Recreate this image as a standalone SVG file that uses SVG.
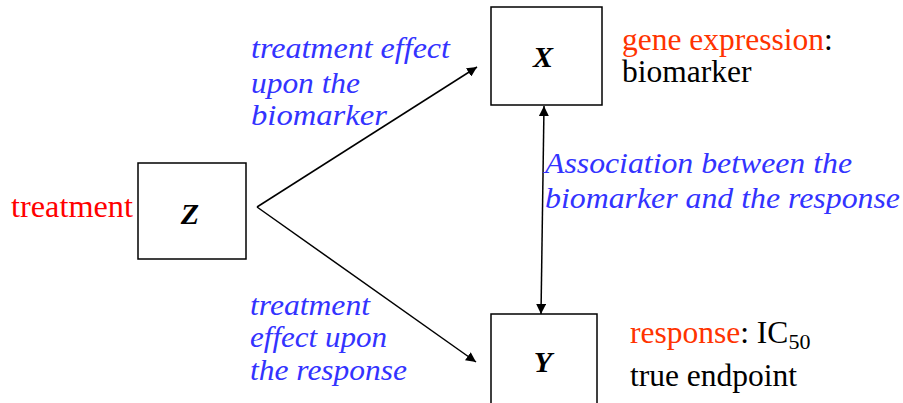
<svg xmlns="http://www.w3.org/2000/svg" width="903" height="403" viewBox="0 0 903 403">
<defs>
<marker id="ah" viewBox="0 0 10 10" refX="10" refY="5" markerWidth="10" markerHeight="10" markerUnits="userSpaceOnUse" orient="auto-start-reverse">
<path d="M0,0 L10,5 L0,10 Z" fill="#000"/>
</marker>
<style>
text{font-family:'Liberation Serif','Times New Roman',Tinos,'DejaVu Serif',serif}
.box{fill:#fff;stroke:#000;stroke-width:1.5}
.var{font-style:italic;font-weight:bold;font-size:30px;fill:#000}
.lbl{font-size:31.5px;fill:#000}
.red{fill:#FF0000}
.ora{fill:#FF3300}
.blue{font-style:italic;font-size:29px;fill:#3333FF}
.edge{stroke:#000;stroke-width:1.5;fill:none}
</style>
</defs>
<rect width="903" height="403" fill="#fff"/>
<g id="connectors">
<line class="edge" x1="257" y1="207" x2="477" y2="67" marker-end="url(#ah)"/>
<line class="edge" x1="257" y1="207" x2="476" y2="362" marker-end="url(#ah)"/>
<line class="edge" x1="544" y1="106" x2="541" y2="314" marker-start="url(#ah)" marker-end="url(#ah)"/>
</g>
<g id="nodeZ">
<rect class="box" x="138" y="163" width="108" height="96"/>
<text class="var" x="190" y="224" text-anchor="middle">Z</text>
<text class="lbl red" x="11" y="217" textLength="122" lengthAdjust="spacingAndGlyphs">treatment</text>
</g>
<g id="nodeX">
<rect class="box" x="491" y="7" width="111" height="98"/>
<text class="var" x="543" y="67" text-anchor="middle">X</text>
<text class="lbl" x="622" y="50"><tspan class="ora">gene expression</tspan>:</text>
<text class="lbl" x="622" y="82">biomarker</text>
</g>
<g id="nodeY">
<rect class="box" x="491" y="314" width="106" height="100"/>
<text class="var" x="543" y="372" text-anchor="middle">Y</text>
<text class="lbl" x="630" y="343"><tspan class="ora">response</tspan>: IC<tspan font-size="22px" dy="6">50</tspan></text>
<text class="lbl" x="630" y="386">true endpoint</text>
</g>
<g id="labels">
<text class="blue" x="251" y="58" textLength="199" lengthAdjust="spacingAndGlyphs">treatment effect</text>
<text class="blue" x="251" y="93" textLength="109" lengthAdjust="spacingAndGlyphs">upon the</text>
<text class="blue" x="251" y="125" textLength="136" lengthAdjust="spacingAndGlyphs">biomarker</text>
<text class="blue" x="545" y="173" textLength="307" lengthAdjust="spacingAndGlyphs">Association between the</text>
<text class="blue" x="545" y="208" textLength="355" lengthAdjust="spacingAndGlyphs">biomarker and the response</text>
<text class="blue" x="250" y="315" textLength="120" lengthAdjust="spacingAndGlyphs">treatment</text>
<text class="blue" x="250" y="347" textLength="137" lengthAdjust="spacingAndGlyphs">effect upon</text>
<text class="blue" x="250" y="380" textLength="157" lengthAdjust="spacingAndGlyphs">the response</text>
</g>
</svg>
